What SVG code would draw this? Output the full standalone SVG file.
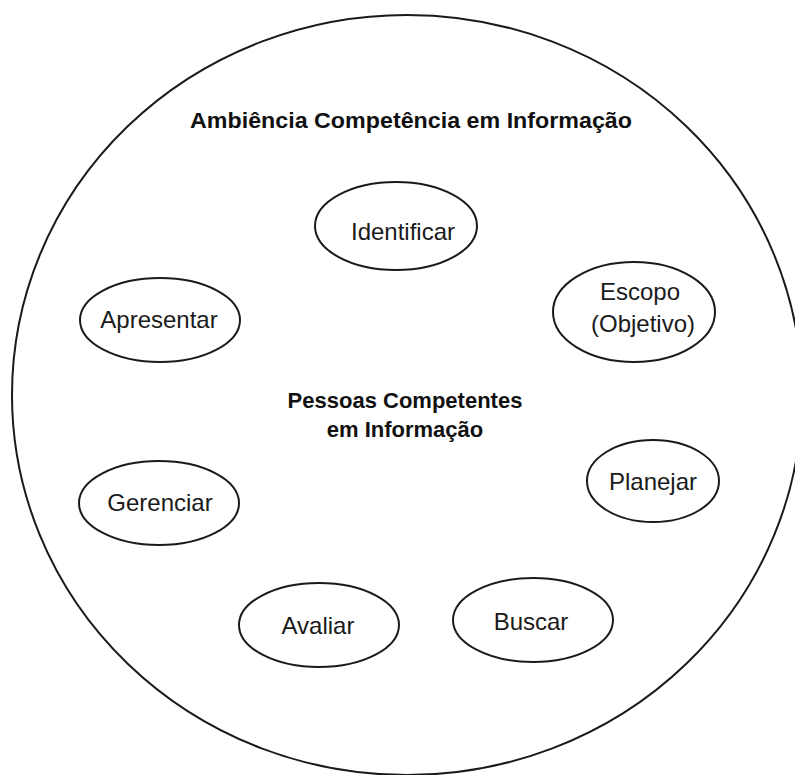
<svg xmlns="http://www.w3.org/2000/svg" width="795" height="775" viewBox="0 0 795 775">
  <style>
    .outer { fill: none; stroke: #1a1a1a; stroke-width: 2; }
    .node ellipse { fill: #ffffff; stroke: #1a1a1a; stroke-width: 2; }
    .lbl { font-family: "Liberation Sans", Arial, sans-serif; font-size: 24px; fill: #1a1a1a; text-anchor: middle; }
    .head { font-family: "Liberation Sans", Arial, sans-serif; font-size: 22px; font-weight: bold; fill: #111111; text-anchor: middle; }
  </style>
  <rect width="795" height="775" fill="#ffffff"/>

  <!-- surrounding environment -->
  <g id="ambiencia">
    <ellipse class="outer" cx="407" cy="395" rx="395" ry="380"/>
    <text class="head" x="411" y="128" textLength="442" lengthAdjust="spacingAndGlyphs">Ambiência Competência em Informação</text>
  </g>

  <!-- centre label -->
  <g id="pessoas">
    <text class="head" x="405" y="408">Pessoas Competentes</text>
    <text class="head" x="405" y="437">em Informação</text>
  </g>

  <!-- stages -->
  <g id="identificar" class="node">
    <ellipse cx="396" cy="226" rx="81" ry="44"/>
    <text class="lbl" x="403" y="240">Identificar</text>
  </g>
  <g id="escopo" class="node">
    <ellipse cx="634" cy="312" rx="81" ry="50"/>
    <text class="lbl" x="640" y="300">Escopo</text>
    <text class="lbl" x="643" y="332">(Objetivo)</text>
  </g>
  <g id="apresentar" class="node">
    <ellipse cx="160" cy="320" rx="80" ry="42"/>
    <text class="lbl" x="159" y="328">Apresentar</text>
  </g>
  <g id="planejar" class="node">
    <ellipse cx="653" cy="481" rx="66" ry="41"/>
    <text class="lbl" x="653" y="490">Planejar</text>
  </g>
  <g id="gerenciar" class="node">
    <ellipse cx="159" cy="503" rx="80" ry="42"/>
    <text class="lbl" x="160" y="511">Gerenciar</text>
  </g>
  <g id="avaliar" class="node">
    <ellipse cx="319" cy="625" rx="80" ry="42"/>
    <text class="lbl" x="318" y="634">Avaliar</text>
  </g>
  <g id="buscar" class="node">
    <ellipse cx="533" cy="620" rx="80" ry="42"/>
    <text class="lbl" x="531" y="630">Buscar</text>
  </g>

  <!-- no connectors in this figure -->
  <g id="connectors"/>
</svg>
